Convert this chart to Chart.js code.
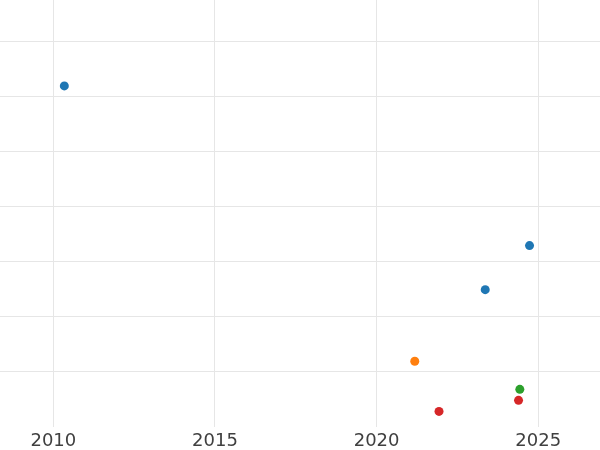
<!DOCTYPE html>
<html>
<head>
<meta charset="utf-8">
<script src="https://cdn.jsdelivr.net/npm/chart.js@4/dist/chart.umd.min.js"></script>
<style>
  html, body { margin: 0; padding: 0; background: #fff; }
  #wrap { width: 600px; height: 450px; }
</style>
</head>
<body>
<div id="wrap"><canvas id="scatterChart"></canvas></div>
<script>
// year (x) and value (y) per group
const blueYears = [2010.34, 2024.73, 2023.36];
const blueValues = [61.9, 32.9, 24.9];
const orangeYears = [2021.18];
const orangeValues = [11.9];
const greenYears = [2024.43];
const greenValues = [6.8];
const redYears = [2024.39, 2021.93];
const redValues = [4.8, 2.8];

const colors = ['#1f77b4', '#ff7f0e', '#2ca02c', '#d62728'];

function toPoints(xs, ys) {
  return xs.map((x, i) => ({ x: x, y: ys[i] }));
}

const ctx = document.getElementById('scatterChart').getContext('2d');

new Chart(ctx, {
  type: 'scatter',
  data: {
    datasets: [
      { label: 'A', data: toPoints(blueYears, blueValues), backgroundColor: colors[0] },
      { label: 'B', data: toPoints(orangeYears, orangeValues), backgroundColor: colors[1] },
      { label: 'C', data: toPoints(greenYears, greenValues), backgroundColor: colors[2] },
      { label: 'D', data: toPoints(redYears, redValues), backgroundColor: colors[3] }
    ]
  },
  options: {
    responsive: true,
    maintainAspectRatio: false,
    animation: false,
    layout: { padding: 0, autoPadding: false },
    elements: {
      point: { radius: 4.5, borderWidth: 0, hoverRadius: 5 }
    },
    plugins: {
      legend: { display: false },
      tooltip: { enabled: false }
    },
    scales: {
      x: {
        type: 'linear',
        min: 2008.35,
        max: 2026.91,
        border: { display: false },
        // invisible tick marks just push the labels down a bit
        grid: { color: '#e6e6e6', drawTicks: true, tickLength: 5, tickColor: 'rgba(0,0,0,0)' },
        ticks: {
          stepSize: 5,
          includeBounds: false,
          padding: 1,
          color: '#404040',
          font: { family: 'DejaVu Sans', size: 18, lineHeight: 0.9 },
          callback: v => String(v)
        }
      },
      y: {
        min: 0,
        max: 77.5,
        border: { display: false },
        grid: {
          drawTicks: false,
          color: c => (c.tick && c.tick.value === 0) ? 'rgba(0,0,0,0)' : '#e6e6e6'
        },
        ticks: { display: false, stepSize: 10, includeBounds: false }
      }
    }
  }
});
</script>
</body>
</html>
